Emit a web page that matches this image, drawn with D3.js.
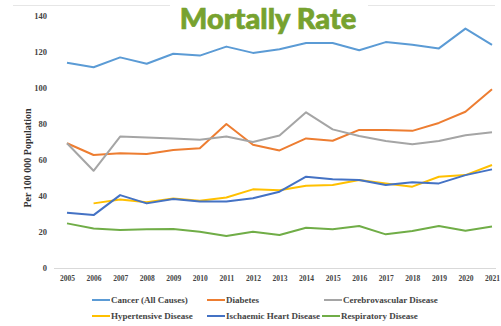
<!DOCTYPE html>
<html>
<head>
<meta charset="utf-8">
<script src="https://cdn.jsdelivr.net/npm/d3@7"></script>
<style>
  html, body { margin: 0; padding: 0; background: #fff; }
  svg { display: block; }
  .tick-label { font-family: "Liberation Serif", "DejaVu Serif", serif; font-weight: bold; fill: #444; }
</style>
</head>
<body>
<svg id="chart" width="501" height="326"></svg>
<script>
// Years on the horizontal axis
const years = [2005, 2006, 2007, 2008, 2009, 2010, 2011, 2012, 2013, 2014, 2015, 2016, 2017, 2018, 2019, 2020, 2021];

// Deaths per 100 000 population, one array per cause
const cancer          = [114, 111.5, 117, 113.5, 119, 118, 123, 119.5, 121.5, 125, 125, 121, 125.5, 124, 122, 133, 124];
const diabetes        = [69.3, 62.8, 63.7, 63.3, 65.5, 66.5, 80, 68.5, 65.3, 72, 70.7, 76.7, 76.6, 76.2, 80.6, 86.8, 99.3];
const cerebrovascular = [69.3, 54, 73, 72.5, 72, 71.3, 73, 70, 73.6, 86.5, 77, 73.3, 70.5, 68.7, 70.5, 73.7, 75.4];
const hypertensive    = [null, 35.9, 38.1, 36.5, 38.6, 37.4, 39.2, 43.7, 43.2, 45.7, 46.1, 48.9, 47, 45.2, 50.7, 51.6, 57.2];
const ischaemic       = [30.7, 29.4, 40.5, 35.9, 38.3, 36.9, 37, 38.7, 42.4, 50.7, 49.3, 48.9, 46.1, 47.6, 47, 51.6, 54.8];
const respiratory     = [24.8, 22, 21.1, 21.5, 21.7, 20.2, 17.8, 20.2, 18.3, 22.4, 21.5, 23.3, 18.7, 20.5, 23.3, 20.7, 23];

const seriesNames  = ["Cancer (All Causes)", "Diabetes", "Cerebrovascular Disease",
                      "Hypertensive Disease", "Ischaemic Heart Disease", "Respiratory Disease"];
const seriesValues = [cancer, diabetes, cerebrovascular, hypertensive, ischaemic, respiratory];
const seriesColors = ["#5b9bd5", "#ed7d31", "#a5a5a5", "#ffc000", "#4472c4", "#70ad47"];

const yTicks = [0, 20, 40, 60, 80, 100, 120, 140];
const title = "Mortally Rate";
const yTitle = "Per 100 000 Population";

const svg = d3.select("#chart");

// Scales
const x = d3.scaleLinear().domain([2005, 2021]).range([67, 492]);
const y = d3.scaleLinear().domain([0, 140]).range([268, 16]);

// Faint frame line across the top of the chart area
svg.append("line")
  .attr("x1", 13).attr("x2", 495).attr("y1", 5.5).attr("y2", 5.5)
  .attr("stroke", "#e6e6e6").attr("stroke-width", 1);

// Horizontal baseline
svg.append("line")
  .attr("x1", 54).attr("x2", 496).attr("y1", y(0) + 0.5).attr("y2", y(0) + 0.5)
  .attr("stroke", "#d9d9d9").attr("stroke-width", 1);

// Y axis labels
const yAxis = d3.axisLeft(y).tickValues(yTicks).tickSize(0).tickPadding(0);
const yg = svg.append("g").attr("transform", "translate(47,0)").call(yAxis);
yg.select(".domain").remove();
yg.selectAll("text").attr("class", "tick-label").attr("font-size", 8.5).attr("dy", "0.32em");

// X axis labels
const xAxis = d3.axisBottom(x).tickValues(years).tickFormat(d3.format("d")).tickSize(0).tickPadding(0);
const xg = svg.append("g").attr("transform", "translate(0,276)").call(xAxis);
xg.select(".domain").remove();
xg.selectAll("text").attr("class", "tick-label").attr("font-size", 7.5).attr("dy", "0.7em");

// Y axis title
svg.append("text")
  .attr("transform", "translate(31,158) rotate(-90)")
  .attr("text-anchor", "middle")
  .attr("font-family", "Liberation Serif, DejaVu Serif, serif")
  .attr("font-weight", "bold")
  .attr("font-size", 10)
  .attr("fill", "#333")
  .text(yTitle);

// Lines
const line = d3.line()
  .defined(d => d.v != null)
  .x(d => x(d.year))
  .y(d => y(d.v));

seriesValues.forEach((vals, i) => {
  svg.append("path")
    .datum(years.map((yr, j) => ({ year: yr, v: vals[j] })))
    .attr("fill", "none")
    .attr("stroke", seriesColors[i])
    .attr("stroke-width", 2)
    .attr("stroke-linejoin", "round")
    .attr("d", line);
});

// Title
svg.append("rect").attr("x", 170).attr("y", 0).attr("width", 198).attr("height", 34).attr("fill", "#fff");
svg.append("text")
  .attr("x", 268).attr("y", 29)
  .attr("text-anchor", "middle")
  .attr("font-family", "Lato, Open Sans, sans-serif")
  .attr("font-weight", 900)
  .attr("font-size", 29)
  .attr("fill", "#77a22f")
  .attr("stroke", "#77a22f")
  .attr("stroke-width", 0.7)
  .text(title);

// Legend
const legendPos = [[92, 300], [207, 300], [324, 300], [92, 316], [207, 316], [322, 316]];
seriesNames.forEach((name, i) => {
  const [lx, ly] = legendPos[i];
  const g = svg.append("g").attr("transform", `translate(${lx},${ly})`);
  g.append("line").attr("x1", 0).attr("x2", 18).attr("y1", 0).attr("y2", 0)
    .attr("stroke", seriesColors[i]).attr("stroke-width", 2);
  g.append("text").attr("x", 19).attr("y", 0).attr("dy", "0.35em")
    .attr("font-family", "Liberation Serif, DejaVu Serif, serif")
    .attr("font-weight", "bold")
    .attr("font-size", 9)
    .attr("fill", "#444")
    .text(name);
});
</script>
</body>
</html>
